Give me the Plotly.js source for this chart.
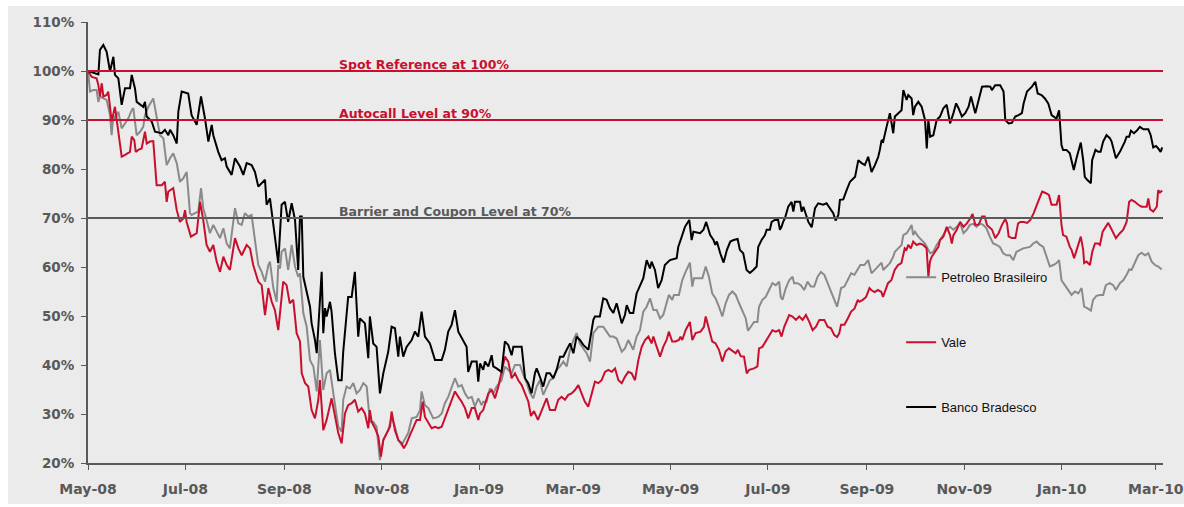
<!DOCTYPE html>
<html>
<head>
<meta charset="utf-8">
<script src="https://cdn.plot.ly/plotly-3.0.1.min.js"></script>
<style>
html,body{margin:0;padding:0;background:#ffffff;}
#chart{position:absolute;left:8px;top:6px;width:1176px;height:498px;}
</style>
</head>
<body>
<div id="chart"></div>
<script>
// Day offsets are counted from the start date 2008-05-01; values are % of the spot reference.
const startDate = '2008-05-01';
const xTickStart = '2008-05-01';
const xEndDay = 673.5;

const seriesNames = ['Petroleo Brasileiro', 'Vale', 'Banco Bradesco'];

const pbrDays = [0,1.3,3.3,5.4,6.5,7.5,9.6,11.7,13.8,14.8,15.9,16.9,19,21.1,23.2,25.2,27.4,28.4,29.4,30.5,32.6,34.6,35.7,37.8,40.9,43,45.1,47.2,49.3,51.4,53.4,55.6,57.6,59.7,61.8,63.9,64.9,67,69.1,70.8,72.2,74.3,76.4,78.5,80.6,82.7,84.8,86.9,88.9,91,92.1,94.2,96.3,98.3,100.4,102.5,104.6,106.7,108.8,110.9,113,114,116.1,118.2,119.2,120.3,121.3,123.4,125.4,127.6,129.7,131.7,132.8,134.9,137,139.1,141.2,143.3,145.3,147.4,149.5,151.6,153.7,156.8,158.9,159.9,162,164.1,166.2,168.3,170.4,172.5,174.6,176.6,178.7,180.8,182.9,185,188.1,190.2,192.3,194.4,196.5,198.6,200.6,202.8,205.9,208,209,211.1,213.2,216.3,219.5,221.6,223.6,225.7,227.8,229.9,232,234.1,236.2,238.2,240.4,242.4,244.5,246.6,247.6,249.7,251.8,253.9,256,259.1,261.2,263.3,265.4,267.5,270.6,272.8,274.9,276.9,279,281.1,283.1,285.2,287.3,289.4,291.5,293.6,295.7,297.8,299.9,302,304.1,306.1,308.2,310.3,312.4,314.5,316.6,319.7,322.8,324.9,327,329.1,331.2,334.4,336.4,338.5,341.6,343.7,345.8,347.9,350,352.1,354.2,356.3,358.4,360.4,362.5,363.9,366,367.1,370.2,372.3,374.4,377.1,378.6,379.6,382.8,384.9,387,389,391.1,393.2,395.3,397.4,399.5,401.6,403.7,405.8,407.9,410,412.1,413.5,415.2,417.3,419.4,420.4,422.5,424.6,426.7,428.8,430.9,433,434,435.1,437.2,439.3,441.4,442.4,444.5,446.6,448.7,450.8,452.9,455,457.1,459.2,461.3,463.4,465.5,467.6,469.3,470.7,471.8,473.9,476,478.1,480.2,482.3,483.9,486.4,488.8,490.9,493,495.1,497.2,498.2,500.3,502.4,504.5,505.5,507.6,509.7,510.8,512.9,514.9,516,517,518.1,520.2,522.3,524.4,525.5,527.6,529.6,531.7,533.8,535.9,538,540.1,542.2,544.3,546.4,548.5,550.6,552.5,554.6,556.7,558.7,560.8,562.9,565,567.1,569.2,571.3,573.4,575.5,577.6,579.7,581.7,583.8,585.9,590.1,592.2,594.3,596.4,598.5,600.6,602.6,604.8,606.8,608.4,609.9,612,614.1,616.2,618.3,620.4,622.5,624.1,626,628.3,629.7,631.8,633.9,636,637.7,640.2,642.3,644,646.5,648.6,650.7,652.3,653.8,655.9,658,660.1,662.2,664.3,666.4,668.5,670.5,672.7];
const pbrVals = [100,95.8,96.1,96.1,93.7,94.8,94.4,94.1,91,86.9,91,90.3,91.7,88.3,89.3,90.3,92,92.4,89.7,86.9,87.6,88.6,91,92.7,94.4,91,86.9,86.3,80.8,82.2,83.2,81.2,77.4,78.1,79.4,71,70.6,71,71.3,76.1,72,69.6,66.9,68.6,67.2,65.9,67.9,64.8,63.8,68.6,72,68.9,68.6,71,70.3,70.6,65.2,60.4,59,57,60.4,61.1,55.7,52.9,60.4,59.7,63.1,63.8,59.4,64.5,60.1,58,58.7,50.6,47.8,41,39.7,34.6,45.1,34.9,38.3,39,34.2,27.4,26.4,32.9,35.6,35.2,36.3,34.2,34.9,36.3,35.6,28.4,28.4,27.4,20.6,24.7,26.7,29.4,27.4,24.7,23.7,25,26.1,29.1,29.4,30.8,34.6,31.8,31.2,29.1,29.4,30.1,32.2,33.5,35.2,37.3,35.6,35.9,34.2,33.2,33.5,31.5,33.2,31.8,32.5,32.5,35.2,34.2,35.6,36.9,39.7,39,38.3,40,40,38,36.3,34.2,33.2,35.6,36.9,33.9,35.6,36.9,37.3,39,39.7,40.7,39.7,43.1,45.1,46.5,44.4,43.4,42.4,40.7,46.5,47.8,47.8,46.8,45.8,45.8,45.4,42.7,43.4,45.1,43.1,45.8,47.1,50.9,51.9,53.6,51.2,51.2,49.5,50.2,52.6,54.3,53.3,54.3,54.3,57.3,59,60.9,56,57.7,57.7,57.7,60.1,58,54.6,53.6,51.9,49.9,52.6,54.3,55,54.3,52.6,51.2,49.5,47,47.8,48.8,48.8,51.9,53.3,53.9,55.3,56.7,56.3,57,53.9,53.3,55.7,57.3,58,56.7,56.7,56.3,55.3,57,56,56,58,59,58.4,56.7,54.6,53.3,51.9,53.9,55.7,56,57.3,58.7,58.4,59.5,60.4,60.4,61.4,58.7,59.4,60.1,60.9,59.4,60.1,60.8,62.1,63.1,63.8,64.5,66.5,66.9,67.9,68.6,66.5,67.2,66.2,65.5,64.8,64.1,62.8,63.1,64.5,65.5,66.5,67.6,68.2,67.6,68.2,68.9,66.9,67.6,68.6,68.8,68.2,68.9,68.6,67.9,66.2,64.8,64.5,64.1,62.8,62.4,62.4,61.4,63.1,63.5,63.8,64.1,64.8,65.2,64.5,64.1,62.1,60.1,60.4,60.8,61.4,57.3,56.3,55.3,54.3,55,54.6,55.7,51.9,51.6,51.1,53.3,54.1,54.3,54.3,56.3,56.7,56.3,55.3,56.7,57.3,58.4,59.5,59.4,61.1,62.4,62.9,62.4,62.8,61.1,60.4,60.1,59.5];

const valeDays = [0,2.3,5.4,6.5,7.5,8.6,9.6,11.7,12.7,14.8,16.9,18,19,21.1,23.2,26.3,27.4,29,29.9,31.5,33.6,35.7,36.8,38.8,40.9,42,43,46.2,48.2,49.3,50.3,53.4,55.6,57.6,59.7,60.8,61.8,64.5,68.1,70.2,72.2,74.3,76.4,78.5,80.6,82.7,84.8,86.9,88.9,92.1,94.2,96.3,99.4,101.5,103.5,106.7,108.8,110.9,113,115.1,117.1,119.2,120.3,122.3,124.4,126.4,128.6,130.7,132.8,133.9,136,138,140.1,142.2,144.3,145.3,147.4,149.5,152.6,154.7,156.8,158.9,161,163,165.2,167.2,169.3,171.4,173.5,175.6,176.6,177.7,179.8,181.9,183.5,185,187.1,189.2,190.2,192.3,194.4,196.5,197.9,199.6,201.7,203.8,205.9,208,209.7,211.1,213.2,215.3,217.4,219.5,221.6,223.6,225.7,227.8,229.9,232,234.1,236.2,238.2,240.4,242.4,244.5,245.6,247.6,250.8,252.9,255,257.1,259.1,261.2,263.3,265.4,267.5,269.6,271.7,273.8,275.9,277.5,279.4,281.9,284.4,287.3,289.4,292.6,294.6,296.7,298.8,300.9,303,305.1,307.2,309.3,311.3,313.4,315.5,317.6,319.7,321.8,323.9,326,328.1,330.2,332.3,334.4,336.4,338.5,340.6,342.7,344.8,346.9,349,351.1,353.1,354.2,356.3,358.4,360.4,362.5,363.9,366,368.1,370.2,371.2,372.3,374.4,377.1,378.6,380.7,383.8,385.9,387,389,391.1,393.2,395.3,397.4,399.5,401.6,403.7,405.8,407.2,408.9,411,412.7,414.2,417.3,419.4,420.4,422.5,424.6,426.7,428.8,430.9,433,434.5,436.2,439.3,441.4,443.5,445.6,447.7,449.8,451.9,454,456.1,458.2,461.3,463.4,465.5,467.6,469.3,470.7,471.8,473.9,476,478.1,480.2,482.3,483.3,485.4,487.5,489.6,490.7,492.8,494.9,497,498.1,499.1,501.2,503.3,505.4,507.5,509.6,511.7,512.8,513.9,515.5,517,519.1,521.2,523.3,525.4,526.5,527.5,528.6,530.7,532.8,533.8,535.9,538,540.1,541.2,542.2,544.3,546.4,548.5,550.6,552.7,554.2,555.9,558,560.1,561.8,563.2,564.7,566.4,568.4,570.5,572.6,574.7,575.8,576.8,578.9,581,582.7,584.2,586.3,588.4,590.4,592.5,595.7,597.8,599.9,602,603.7,606.8,608.4,609.9,610.9,613,615.1,616.2,617.8,619.3,622,623.5,624.1,625.6,627.7,629.2,630.9,632.9,634,635.7,637.1,639.2,641.4,644,646.5,648.6,650.7,652.3,653.8,655.9,658,660.1,663.3,664.3,665.4,667.4,669.6,670.5,671.6,673];
const valeVals = [100,98.8,98.5,97.1,94.8,97.5,94.8,95.1,95.8,89.7,92.7,89.7,87.6,82.5,82.9,83.5,86.6,85.9,83.5,83.9,84.2,87.6,85.2,85.6,85.7,80.8,76.7,76.7,77.4,73.3,75.4,76.1,71.6,69.2,69.9,71.6,69.2,66.2,66.9,73.3,69.6,64.5,63.1,64.5,61.1,59,62.1,60.4,59.4,65.9,63.8,62.4,64.5,63.8,60.4,57,56.3,50.2,55.7,52.9,51.2,47.1,50.2,57,56.3,52.6,53.3,46.5,44.8,38.3,36.3,35.6,30.8,29.1,32.9,36.9,26.7,28.8,33.2,29.4,26.1,24,30.1,31.8,32.2,32.9,30.5,31.2,30.1,27.1,30.8,28.4,27.1,25.4,21.3,24.7,26.1,27.4,30.5,26.7,24.7,24,23,24,25.7,27.4,28.8,28.8,32.5,29.4,28.1,27.1,27.4,27.1,27.4,29.1,30.8,32.9,34.6,33.5,32.5,31.2,29.1,31.2,31.2,28.8,30.1,30.8,34.2,34.9,33.2,35.6,38.3,41.7,40.7,37.3,38.3,36.9,35.9,34.2,32.5,29.6,30.6,28.8,30.8,33.2,30.8,30.8,32.9,33.5,32.9,33.9,34.2,34.9,35.9,34.2,32.5,31.5,34.2,36.6,36.3,36.9,38.6,39,38.6,39.3,36.9,36.3,37.6,38.6,38.3,36.9,41,43.7,45.1,45.8,44.4,45.8,43.7,41.7,43.7,45.1,46.8,44.8,44.8,45.1,45.8,45.1,47.1,48.8,45.1,46.5,46.8,47.8,49.9,47.1,44.8,44.4,43.1,40.7,42.8,43.4,42.8,42.4,43.1,41.8,41.7,38.3,39,39.3,39.7,43.4,43.7,44.8,45.8,47.1,46.8,47.1,45.8,47.8,50.2,49.9,49.2,49.9,49.2,50.2,48.8,47.1,47.8,49.2,49.2,47.8,47.5,46.1,45.7,46.5,48.2,48.2,49.5,50.9,51.5,53.3,52.9,53.3,53.9,55.7,55.3,54.9,55.3,54.9,53.9,54.9,56.7,57.3,59.4,60.4,60.8,63.8,63.5,64.5,63.8,65.2,64.5,64.8,64.5,63.8,58,61.1,62.1,63.1,64.1,65.5,66.2,68.2,66.5,64.8,66.5,67.6,69.2,68.2,68.9,69.9,70.8,68.6,68.6,70.3,70.3,68.6,68.2,67.6,65.9,66.9,68.6,69.8,68.9,66.2,65.9,65.9,68.9,69.2,69.2,69,69.6,71,73.7,75.4,75.1,74.7,72.7,72.7,74.7,68.6,66.5,66.2,64.1,63.5,61.8,63.5,66.2,63.5,60.8,61.1,60.4,63.1,64.8,64.8,64.5,67.2,67.9,69,67.6,65.9,66.9,67.6,69.2,73.3,73.7,73.3,72.7,72.3,72.3,74,71.8,71.3,72.3,75.7,75.2,75.6];

const bbdDays = [0,6.5,7.5,9.6,11.7,13.8,15.9,16.9,19,21.1,23.2,26.3,27.4,29.4,30.5,34.6,35.7,36.8,39.9,42,46.2,48.2,50.3,51.4,53.4,55.6,56.6,58.7,62.8,64.9,68.1,69.1,70.8,73.3,75.4,77.5,78.5,81.6,83.7,85.8,86.9,90,92.1,95.2,97.3,99.4,102.5,104.6,106.7,110.9,111.9,114,115.1,117.1,119.2,121.3,123.4,125.4,127.6,129.7,131.7,132.8,133.9,134.9,137,139.1,140.1,142.2,143.3,145.3,146.4,147.4,148.5,149.5,151.6,152.6,154.7,156.8,158.9,159.9,162,163,165.2,167.2,169.3,170.4,173.5,175.6,176.6,178.7,180.8,182.9,185,188.1,190.2,192.3,194.4,195.4,197.5,199.6,202.8,204.8,206.9,209,211.1,214.2,217.4,221.6,223.6,225.7,227.8,229.9,232,235.1,237.2,238.2,240.4,243.5,244.5,245.6,247.6,248.7,250.8,252.9,253.9,256,259.1,261.2,263.3,265.4,266.5,271.7,272.8,273.8,275.8,277.9,280,281.1,283.1,285.2,287.3,289.4,291.5,293.6,295.7,297.8,299.9,302,304.1,306.1,308.2,310.3,313.5,316.6,317.6,320.7,322.8,324.9,327,329.1,331.2,334.4,336.4,337.5,339.5,341.6,343.7,345.8,347.9,350,352.1,353.1,355.2,357.2,359.4,361.4,364.6,368.8,369.8,372,374,376.7,378.2,379.3,383.5,385.6,387.3,389.8,391.9,393,394,396.1,398.2,400.3,402.4,404.5,407,408.4,410.5,412.6,414.7,416.8,418.9,419.9,422,424.1,425.2,427.2,428.3,430.3,432.4,433.5,434.5,435.5,436.6,438.7,440.8,441.9,442.9,446.1,447.1,448.2,450.3,451.3,453.4,455.5,457.5,460.6,462.7,464.8,466.9,468.4,470.1,471.1,473.2,475.3,477.4,480.6,482.6,484.7,486.7,488.8,490.9,493,495.1,496.1,497.2,498.2,499.3,500.3,502.4,504.5,505.5,507.6,509.7,510.8,512.9,513.9,516,517,518.1,520.2,522.3,524.4,525.5,526.5,527.6,529.6,530.7,531.7,533.8,535.9,538,540.1,542.2,543.9,545.4,547.5,549.6,551.7,553.2,555.9,558,560.1,563.2,565.3,566.3,568.4,571.5,573.6,574.7,576.8,578.8,580.9,583,585.1,586.2,588.3,591.4,593.5,595,597.4,599.5,601.6,603.7,606.8,608.4,609.9,610.9,613,615.1,616.2,617.6,619.3,622,623.5,624.5,626,628.3,629.1,630.3,631.2,632.9,634.4,636,638.1,640.2,641.3,644,646.5,649.6,650.7,652.3,653.4,655.3,657,659,661.2,664.3,665.8,667.4,669.1,670.5,672,673];
const bbdVals = [100,99.3,104.3,105.3,103.9,99.9,102.9,99.2,98.5,93.1,96.5,96.5,99.2,96.5,93.7,92.7,93.7,90.7,89.7,87.6,87.3,88,86.9,88,86.9,85.2,91.7,95.8,95.4,91,89,91.4,94.8,90.3,85.6,89,86.9,83.5,81.8,82.2,80.5,78.8,82.2,80.5,78.8,81.2,80.8,79.4,76.4,77.8,72.7,74,71.3,66.9,60.8,72.7,73.3,69.2,73,69.6,59.4,70.3,70.3,58,54.6,51.9,48.5,45.1,42.4,54.6,59,46.5,51.6,49.9,52.9,50.9,42.4,36.9,36.9,42.7,51.2,53.9,53.9,59,45.8,49.5,48.5,41.4,49.9,44.4,43.7,34.2,38.3,42.7,47.8,47.5,41.7,45.8,41.7,43.7,45.1,46.8,45.8,50.9,45.8,44.4,41,41,43.1,46.8,48.2,51.2,46.8,45.1,43.7,38.6,40.7,40.7,36.6,40.3,39,40.7,39.7,42,39.7,39.3,38.6,44.8,44.1,42,43.7,43.7,39.7,37.3,36.3,34.2,38.3,39.3,37.6,35.6,38.3,38.3,37.3,39,41.7,41.7,43.1,44.4,42.4,45.8,45.1,44.1,43.1,49.2,49.9,49.9,53.6,53.3,51.6,50.6,52.6,48.5,50.2,52.2,50.6,50.6,54.6,56,57.7,61.4,59.7,61.1,59.4,55.7,57.3,60.4,61.4,61.8,64.1,66.2,68.2,69.6,65.5,67.2,66.9,67.6,69.2,66.5,65.5,64.5,65.2,62.8,60.9,63.5,65.2,65.5,65.7,63.5,62.8,59.4,58.8,59.4,60.1,64.1,65.5,66.5,67.6,67.6,69.2,69.6,69.6,67.6,68.2,69.2,69.9,72.3,73.3,71.3,73.3,73.3,71.3,72.3,70.3,69.2,68.1,72,73,72.7,73,72,71,69.5,70.6,73.7,73.8,75.7,77.4,78.4,81.8,81.2,80.8,82.5,79.4,80.8,82.5,83.9,85.9,85.6,87.6,88.6,91.4,87.3,90.7,91.4,92,96.1,94.1,95.1,94.4,91,92.7,93.7,92.7,90,84.2,90,86.6,86.9,88.3,90,90.7,92.4,93.1,89.3,91.4,93.4,92.4,90.7,91.4,92.7,94.8,91.4,94.1,96.8,96.9,96.8,96.1,97.1,97.1,95.8,90,89.3,89.4,90.7,91,91.4,93.4,95.8,96.8,97.8,95.4,95.1,94.4,93.4,91,90.3,92,84.9,83.9,83.9,83.2,81.8,79.8,82.2,85.4,81.8,78.4,77.8,77.1,81.8,82.9,83.9,83.5,83.5,85.6,86.9,86.3,85.6,82.2,83.5,85.6,86.6,86.6,87.8,87.3,87.8,88.6,88.1,88.1,86.9,84.4,84.7,84.2,83.5,84.4];

const levelValues = [100, 90, 70];
const levelLabels = ['Spot Reference at 100%', 'Autocall Level at 90%', 'Barrier and Coupon Level at 70%'];
const yTickValues = [20, 30, 40, 50, 60, 70, 80, 90, 100, 110];
const yTickLabels = yTickValues.map(v => v + '%');

const RED = '#c8102e';
const GREY_LINE = '#8a8a8a';
const AXIS = '#595959';
const levelColors = [RED, RED, '#5a5a5a'];
const LABEL_FONT = 'DejaVu Sans, sans-serif';

const base = Date.UTC(2008, 4, 1);
function toDate(d) {
  return new Date(base + d * 86400000).toISOString().slice(0, 19).replace('T', ' ');
}

const seriesDays = [pbrDays, valeDays, bbdDays];
const seriesVals = [pbrVals, valeVals, bbdVals];
const seriesColors = [GREY_LINE, RED, '#000000'];

const traces = seriesNames.map((name, i) => ({
  type: 'scatter',
  mode: 'lines',
  name: name,
  legendgroup: 'g' + i,
  x: seriesDays[i].map(toDate),
  y: seriesVals[i],
  line: {color: seriesColors[i], width: 2}
}));

const shapes = levelValues.map((v, i) => ({
  type: 'line', xref: 'paper', x0: 0, x1: 1, yref: 'y', y0: v, y1: v,
  line: {color: levelColors[i], width: 2}, layer: 'above'
}));

const annotations = levelValues.map((v, i) => ({
  xref: 'paper', x: 0.2316, xanchor: 'left',
  yref: 'y', y: v, yanchor: 'bottom', yshift: -3,
  text: levelLabels[i], showarrow: false,
  font: {family: LABEL_FONT, size: 12.5, color: levelColors[i], weight: 'bold'}
}));

const layout = {
  width: 1176, height: 498,
  margin: {l: 80, r: 21, t: 16, b: 41},
  paper_bgcolor: '#ebebeb',
  plot_bgcolor: '#ebebeb',
  showlegend: true,
  legend: {
    x: 0.7564, xanchor: 'left', y: 0.455, yanchor: 'top',
    bgcolor: 'rgba(0,0,0,0)', tracegroupgap: 45,
    font: {family: 'Liberation Sans, Arial, sans-serif', size: 13, color: '#111111'}
  },
  xaxis: {
    type: 'date',
    range: [toDate(0), toDate(xEndDay)],
    tick0: xTickStart, dtick: 'M2', tickformat: '%b-%y',
    showgrid: false, zeroline: false,
    showline: true, linecolor: AXIS, linewidth: 2,
    ticks: 'outside', ticklen: 5, tickcolor: AXIS, tickwidth: 1,
    ticklabelstandoff: 7, ticklabeloverflow: 'allow',
    tickfont: {family: LABEL_FONT, size: 14, color: AXIS, weight: 'bold'}
  },
  yaxis: {
    range: [20, 110],
    tickmode: 'array', tickvals: yTickValues, ticktext: yTickLabels,
    showgrid: false, zeroline: false,
    showline: true, linecolor: AXIS, linewidth: 2,
    ticks: 'outside', ticklen: 5, tickcolor: AXIS, tickwidth: 1,
    ticklabelstandoff: 4,
    tickfont: {family: LABEL_FONT, size: 13.5, color: AXIS, weight: 'bold'}
  },
  shapes: shapes,
  annotations: annotations
};

Plotly.newPlot('chart', traces, layout, {displayModeBar: false, staticPlot: true});
</script>
</body>
</html>
